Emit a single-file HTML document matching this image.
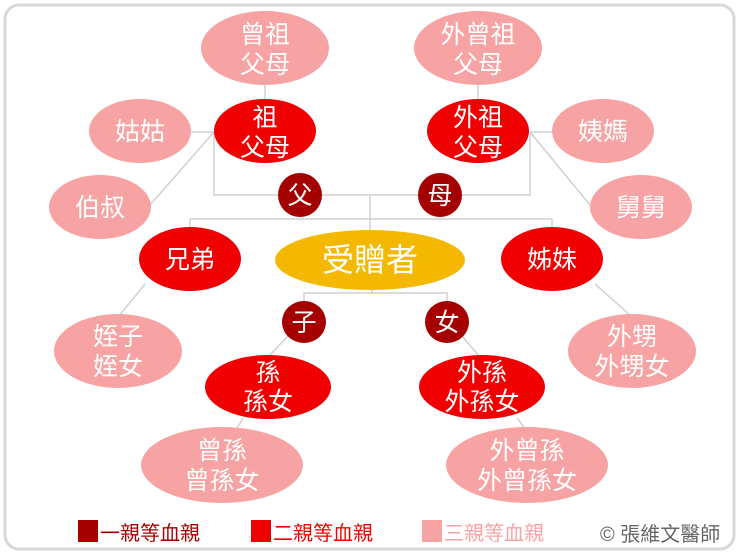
<!DOCTYPE html>
<html><head><meta charset="utf-8"><style>
body{margin:0;background:#fff}
svg text{font-family:"Liberation Sans","Noto Sans CJK TC",sans-serif;fill:#fff;text-anchor:middle}
</style></head><body>
<svg width="740" height="555" viewBox="0 0 740 555">
<rect x="5" y="5" width="729" height="544" rx="14" fill="#fff" stroke="#d8d8d8" stroke-width="3"/>
<g stroke="#d0d0d0" stroke-width="1.5" fill="none">
<line x1="265" y1="85" x2="265" y2="100"/>
<line x1="478" y1="85" x2="478" y2="100"/>
<polyline points="214,132 214,195 530,195 530,132"/>
<line x1="191" y1="132" x2="214" y2="132"/>
<line x1="150" y1="205" x2="214" y2="132"/>
<line x1="552" y1="132" x2="530" y2="132"/>
<line x1="590" y1="205" x2="530" y2="132"/>
<line x1="370" y1="195" x2="370" y2="230"/>
<line x1="190" y1="219" x2="552" y2="219"/>
<line x1="190" y1="219" x2="190" y2="230"/>
<line x1="552" y1="219" x2="552" y2="230"/>
<polyline points="304,302 304,293 447,293 447,302"/>
<line x1="372" y1="288" x2="372" y2="293"/>
<line x1="145" y1="284" x2="119" y2="316"/>
<line x1="595" y1="284" x2="631" y2="316"/>
<line x1="288" y1="336" x2="269" y2="356"/>
<line x1="462" y1="336" x2="479" y2="356"/>
<line x1="243" y1="418" x2="236" y2="430"/>
<line x1="517" y1="418" x2="526" y2="430"/>
</g>
<g fill="#f7a3a3">
<ellipse cx="265" cy="48" rx="64" ry="37"/>
<ellipse cx="478" cy="48" rx="64" ry="37"/>
<ellipse cx="140" cy="131" rx="51" ry="32"/>
<ellipse cx="603" cy="131" rx="51" ry="32"/>
<ellipse cx="100" cy="207" rx="51" ry="32"/>
<ellipse cx="641" cy="207" rx="51" ry="32"/>
<ellipse cx="118" cy="351" rx="64" ry="37"/>
<ellipse cx="632" cy="351" rx="64" ry="37"/>
<ellipse cx="222" cy="465" rx="81" ry="38"/>
<ellipse cx="527" cy="465" rx="81" ry="38"/>
</g>
<g fill="#f00000">
<ellipse cx="265" cy="131" rx="51" ry="32"/>
<ellipse cx="478" cy="131" rx="51" ry="32"/>
<ellipse cx="190" cy="259" rx="51" ry="32"/>
<ellipse cx="552" cy="259" rx="51" ry="32"/>
<ellipse cx="268" cy="387" rx="63" ry="32"/>
<ellipse cx="482" cy="387" rx="63" ry="32"/>
</g>
<g fill="#a50000">
<circle cx="300" cy="195" r="22"/>
<circle cx="440" cy="195" r="22"/>
<ellipse cx="304" cy="322" rx="22" ry="21"/>
<ellipse cx="447" cy="322" rx="22" ry="21"/>
</g>
<ellipse cx="370" cy="260" rx="95" ry="30" fill="#f5b800"/>
<g font-size="25">
<text x="265" y="43">曾祖</text><text x="265" y="73">父母</text>
<text x="478" y="43">外曾祖</text><text x="478" y="73">父母</text>
<text x="265" y="126">祖</text><text x="265" y="156">父母</text>
<text x="478" y="126">外祖</text><text x="478" y="156">父母</text>
<text x="140" y="140">姑姑</text><text x="603" y="140">姨媽</text>
<text x="100" y="216">伯叔</text><text x="641" y="216">舅舅</text>
<text x="300" y="204">父</text><text x="440" y="204">母</text>
<text x="190" y="268">兄弟</text><text x="552" y="268">姊妹</text>
<text x="304" y="331">子</text><text x="447" y="331">女</text>
<text x="118" y="345">姪子</text><text x="118" y="375">姪女</text>
<text x="632" y="345">外甥</text><text x="632" y="375">外甥女</text>
<text x="268" y="381">孫</text><text x="268" y="410">孫女</text>
<text x="482" y="381">外孫</text><text x="482" y="410">外孫女</text>
<text x="222" y="459">曾孫</text><text x="222" y="489">曾孫女</text>
<text x="527" y="459">外曾孫</text><text x="527" y="489">外曾孫女</text>
</g>
<text x="370" y="271" font-size="32">受贈者</text>
<rect x="78" y="520" width="20" height="22" fill="#a50000"/>
<rect x="251" y="520" width="20" height="22" fill="#f00000"/>
<rect x="422" y="520" width="20" height="22" fill="#f7a3a3"/>
<g font-size="20">
<text x="100" y="540" style="fill:#a50000;text-anchor:start">一親等血親</text>
<text x="273" y="540" style="fill:#f00000;text-anchor:start">二親等血親</text>
<text x="444" y="540" style="fill:#f7a3a3;text-anchor:start">三親等血親</text>
<text x="600" y="541" style="fill:#666;text-anchor:start">© 張維文醫師</text>
</g>
</svg>
</body></html>
